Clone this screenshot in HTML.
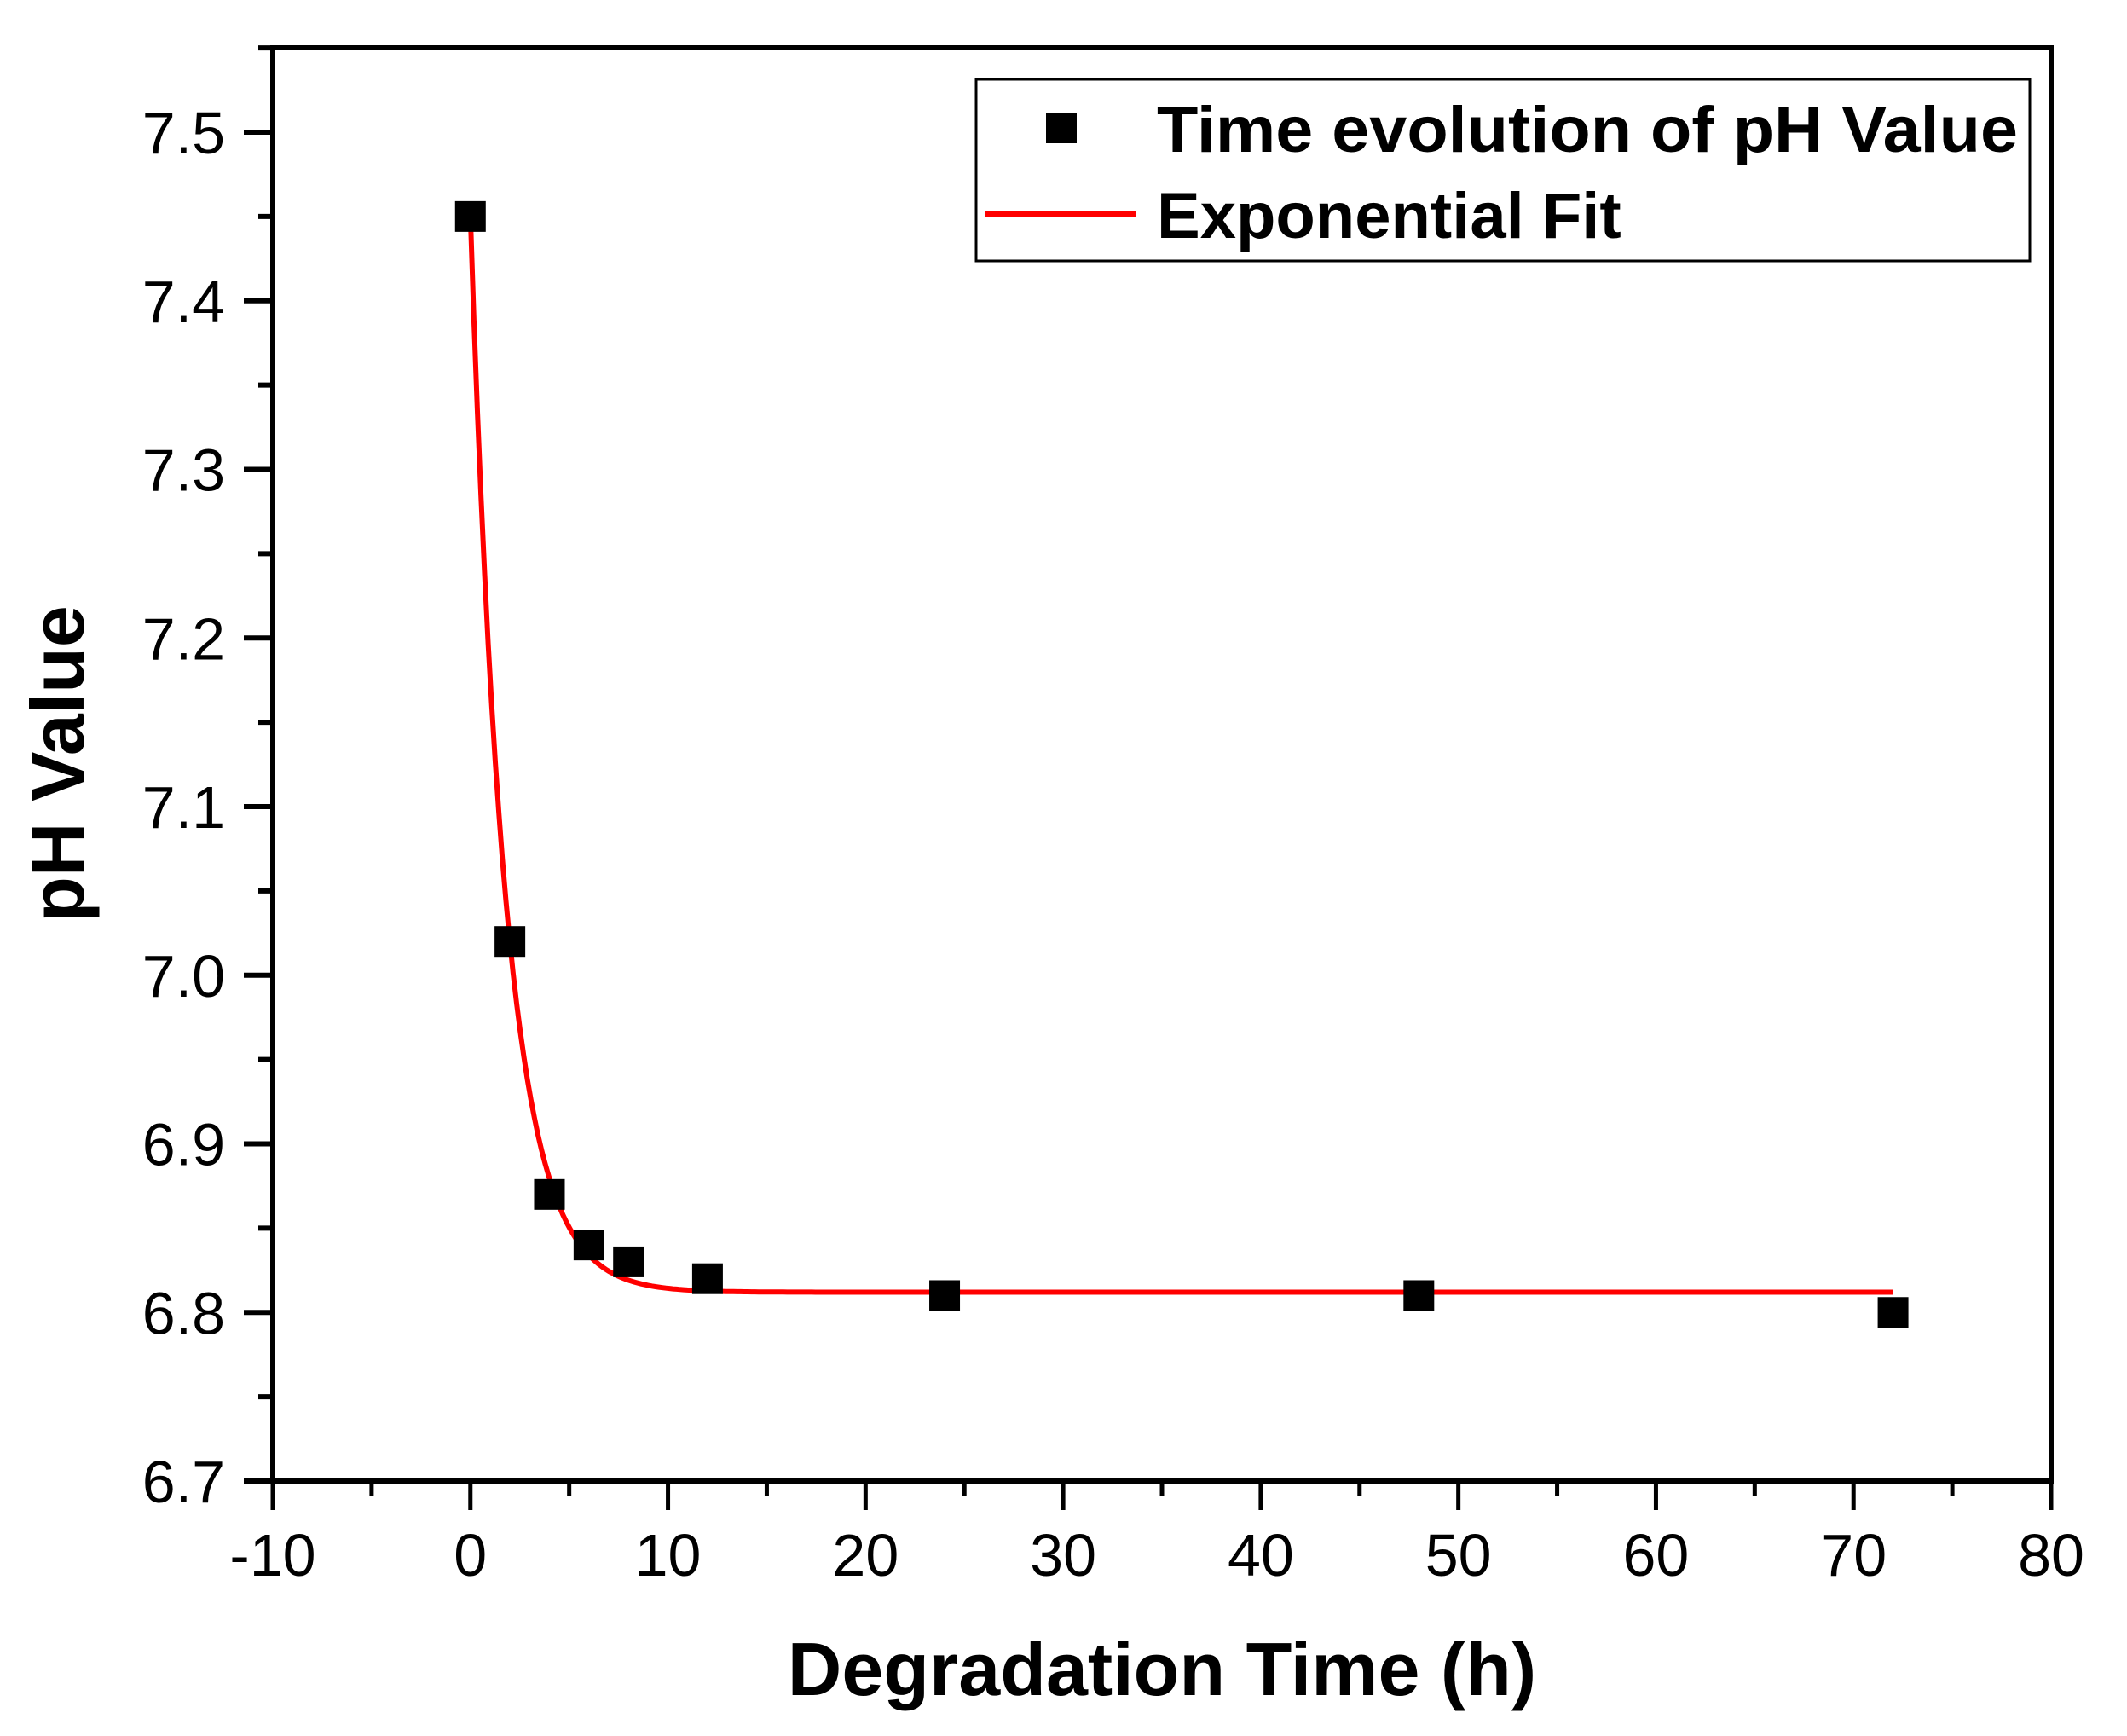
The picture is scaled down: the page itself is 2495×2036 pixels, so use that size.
<!DOCTYPE html>
<html><head><meta charset="utf-8"><style>
html,body{margin:0;padding:0;background:#fff;}
svg{display:block;font-family:"Liberation Sans",Arial,sans-serif;}
</style></head><body>
<svg id="chart" width="2495" height="2036" viewBox="0 0 2495 2036" xmlns="http://www.w3.org/2000/svg">
<rect width="2495" height="2036" fill="#fff"/>
<g id="ticks"></g>
<path id="fit" fill="none" stroke="#ff0000" stroke-width="6"/>
<g id="points"></g>
<rect x="320" y="56" width="2086" height="1681" fill="none" stroke="#000" stroke-width="6"/>
<text x="1363" y="1988" font-size="88" font-weight="bold" text-anchor="middle">Degradation Time (h)</text>
<text transform="translate(98,896) rotate(-90)" font-size="88" font-weight="bold" text-anchor="middle">pH Value</text>
<g>
<rect x="1145" y="93" width="1236" height="213" fill="#fff" stroke="#000" stroke-width="3"/>
<rect x="1227" y="132" width="36" height="36" fill="#000"/>
<text x="1357" y="178" font-size="76" font-weight="bold" textLength="1010" lengthAdjust="spacingAndGlyphs">Time evolution of pH Value</text>
<line x1="1155" y1="251" x2="1333" y2="251" stroke="#ff0000" stroke-width="6"/>
<text x="1357" y="279" font-size="76" font-weight="bold">Exponential Fit</text>
</g>
</svg>
<script>
const timeH = [0, 2, 4, 6, 8, 12, 24, 48, 72];
const phValues = [7.45, 7.02, 6.87, 6.84, 6.83, 6.82, 6.81, 6.81, 6.80];
const fitY0 = 6.812;
const fitA = 0.638;
const fitT = 1.78;
const xTicks = [-10, 0, 10, 20, 30, 40, 50, 60, 70, 80];
const yTicks = [6.7, 6.8, 6.9, 7.0, 7.1, 7.2, 7.3, 7.4, 7.5];

const NS = "http://www.w3.org/2000/svg";
const L = 320, R = 2406, T = 56, B = 1737;
const xMin = -10, xMax = 80, yMin = 6.7, yMax = 7.5 + (99/197.75)*0.1;
function sx(v){ return L + (v - xMin) / (xMax - xMin) * (R - L); }
function sy(v){ return B - (v - yMin) / (yMax - yMin) * (B - T); }
function mk(tag, attrs){ const e = document.createElementNS(NS, tag); for (const k in attrs) e.setAttribute(k, attrs[k]); return e; }

const tg = document.getElementById('ticks');
xTicks.forEach((v, i) => {
  const x = sx(v);
  const t = mk('line', {x1: x, y1: B, x2: x, y2: B + 34, stroke: '#000', 'stroke-width': 5});
  
  
  tg.appendChild(t);
  if (i < xTicks.length - 1) {
    const xm = sx(v + (xTicks[i+1] - v) / 2);
    const m = mk('line', {x1: xm, y1: B, x2: xm, y2: B + 17, stroke: '#000', 'stroke-width': 5});
    
    
    tg.appendChild(m);
  }
  const lb = mk('text', {x: x, y: 1848, 'font-size': 70, 'text-anchor': 'middle'});
  lb.textContent = String(v);
  
  
  tg.appendChild(lb);
});
yTicks.forEach((v, i) => {
  const y = sy(v);
  const t = mk('line', {x1: L - 34, y1: y, x2: L, y2: y, stroke: '#000', 'stroke-width': 6});
  
  
  tg.appendChild(t);
  const ym = sy(v + 0.05);
  if (ym > T) {
    const m = mk('line', {x1: L - 17, y1: ym, x2: L, y2: ym, stroke: '#000', 'stroke-width': 6});
    
    
    tg.appendChild(m);
  }
  const lb = mk('text', {x: 264, y: y + 25, 'font-size': 70, 'text-anchor': 'end'});
  lb.textContent = v.toFixed(1);
  
  
  tg.appendChild(lb);
});

let d = '';
const x0 = timeH[0], x1 = timeH[timeH.length - 1];
for (let i = 0; i <= 400; i++) {
  const x = x0 + (x1 - x0) * i / 400;
  const y = fitY0 + fitA * Math.exp(-(x - x0) / fitT);
  d += (i ? 'L' : 'M') + sx(x).toFixed(1) + ' ' + sy(y).toFixed(1);
}
document.getElementById('fit').setAttribute('d', d);

const pg = document.getElementById('points');
timeH.forEach((t, i) => {
  const r = mk('rect', {x: sx(t) - 18, y: sy(phValues[i]) - 18, width: 36, height: 36, fill: '#000'});
  
  
  pg.appendChild(r);
});
</script>
</body></html>
